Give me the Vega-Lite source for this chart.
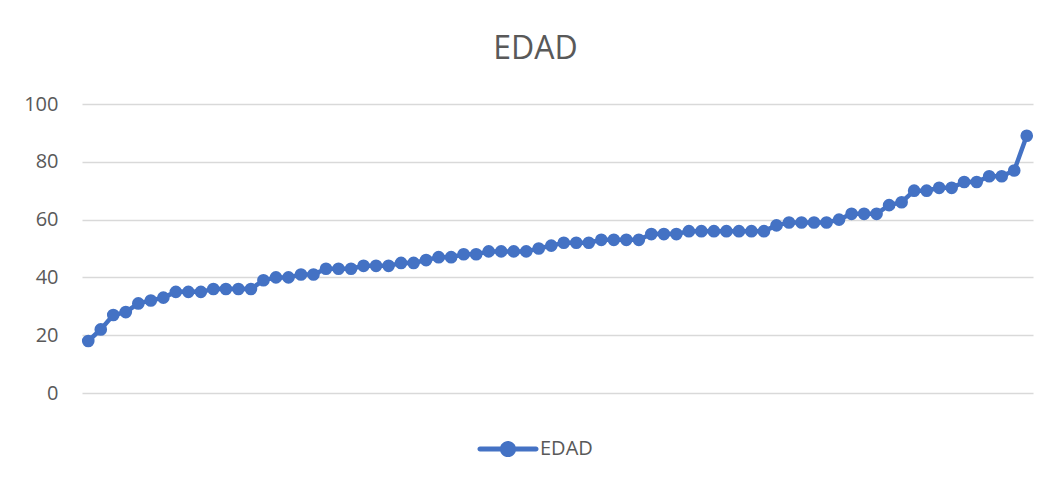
{
  "$schema": "https://vega.github.io/schema/vega-lite/v6.json",
  "width": 951,
  "height": 289,
  "autosize": {"type": "none"},
  "padding": {"left": 82, "top": 104, "right": 19, "bottom": 91},
  "background": "white",
  "config": {
    "view": {"stroke": null},
    "font": "Open Sans"
  },
  "title": {
    "text": "EDAD",
    "font": "Open Sans",
    "fontSize": 32,
    "fontWeight": "normal",
    "color": "#595959",
    "anchor": "middle",
    "dx": -22,
    "offset": 28
  },
  "data": {
    "values": [
      {"i": 1, "EDAD": 18}, {"i": 2, "EDAD": 22}, {"i": 3, "EDAD": 27}, {"i": 4, "EDAD": 28},
      {"i": 5, "EDAD": 31}, {"i": 6, "EDAD": 32}, {"i": 7, "EDAD": 33}, {"i": 8, "EDAD": 35},
      {"i": 9, "EDAD": 35}, {"i": 10, "EDAD": 35}, {"i": 11, "EDAD": 36}, {"i": 12, "EDAD": 36},
      {"i": 13, "EDAD": 36}, {"i": 14, "EDAD": 36}, {"i": 15, "EDAD": 39}, {"i": 16, "EDAD": 40},
      {"i": 17, "EDAD": 40}, {"i": 18, "EDAD": 41}, {"i": 19, "EDAD": 41}, {"i": 20, "EDAD": 43},
      {"i": 21, "EDAD": 43}, {"i": 22, "EDAD": 43}, {"i": 23, "EDAD": 44}, {"i": 24, "EDAD": 44},
      {"i": 25, "EDAD": 44}, {"i": 26, "EDAD": 45}, {"i": 27, "EDAD": 45}, {"i": 28, "EDAD": 46},
      {"i": 29, "EDAD": 47}, {"i": 30, "EDAD": 47}, {"i": 31, "EDAD": 48}, {"i": 32, "EDAD": 48},
      {"i": 33, "EDAD": 49}, {"i": 34, "EDAD": 49}, {"i": 35, "EDAD": 49}, {"i": 36, "EDAD": 49},
      {"i": 37, "EDAD": 50}, {"i": 38, "EDAD": 51}, {"i": 39, "EDAD": 52}, {"i": 40, "EDAD": 52},
      {"i": 41, "EDAD": 52}, {"i": 42, "EDAD": 53}, {"i": 43, "EDAD": 53}, {"i": 44, "EDAD": 53},
      {"i": 45, "EDAD": 53}, {"i": 46, "EDAD": 55}, {"i": 47, "EDAD": 55}, {"i": 48, "EDAD": 55},
      {"i": 49, "EDAD": 56}, {"i": 50, "EDAD": 56}, {"i": 51, "EDAD": 56}, {"i": 52, "EDAD": 56},
      {"i": 53, "EDAD": 56}, {"i": 54, "EDAD": 56}, {"i": 55, "EDAD": 56}, {"i": 56, "EDAD": 58},
      {"i": 57, "EDAD": 59}, {"i": 58, "EDAD": 59}, {"i": 59, "EDAD": 59}, {"i": 60, "EDAD": 59},
      {"i": 61, "EDAD": 60}, {"i": 62, "EDAD": 62}, {"i": 63, "EDAD": 62}, {"i": 64, "EDAD": 62},
      {"i": 65, "EDAD": 65}, {"i": 66, "EDAD": 66}, {"i": 67, "EDAD": 70}, {"i": 68, "EDAD": 70},
      {"i": 69, "EDAD": 71}, {"i": 70, "EDAD": 71}, {"i": 71, "EDAD": 73}, {"i": 72, "EDAD": 73},
      {"i": 73, "EDAD": 75}, {"i": 74, "EDAD": 75}, {"i": 75, "EDAD": 77}, {"i": 76, "EDAD": 89}
    ]
  },
  "mark": {
    "type": "line",
    "strokeWidth": 4.5,
    "point": {"filled": true, "size": 160, "opacity": 1}
  },
  "encoding": {
    "x": {
      "field": "i",
      "type": "ordinal",
      "sort": null,
      "scale": {"type": "point", "padding": 0.5},
      "axis": null
    },
    "y": {
      "field": "EDAD",
      "type": "quantitative",
      "scale": {"domain": [0, 100], "nice": false, "zero": true},
      "axis": {
        "title": null,
        "values": [0, 20, 40, 60, 80, 100],
        "ticks": false,
        "domain": false,
        "labelFont": "Open Sans",
        "labelFontSize": 20,
        "labelColor": "#595959",
        "labelPadding": 24,
        "gridColor": "#d9d9d9",
        "gridWidth": 1.5
      }
    },
    "color": {
      "datum": "EDAD",
      "type": "nominal",
      "scale": {"range": ["#4472C4"]},
      "legend": {
        "title": null,
        "orient": "none",
        "legendX": 398,
        "legendY": 317,
        "symbolType": "M-1,-0.09 L1,-0.09 A0.09,0.09 0 0,1 1,0.09 L-1,0.09 A0.09,0.09 0 0,1 -1,-0.09 Z M0.29,0 A0.29,0.29 0 1,1 -0.29,0 A0.29,0.29 0 1,1 0.29,0 Z",
        "symbolSize": 3136,
        "symbolFillColor": "#4472C4",
        "symbolStrokeWidth": 0,
        "symbolOpacity": 1,
        "labelFont": "Open Sans",
        "labelFontSize": 20,
        "labelColor": "#595959",
        "labelOffset": 4
      }
    }
  }
}
